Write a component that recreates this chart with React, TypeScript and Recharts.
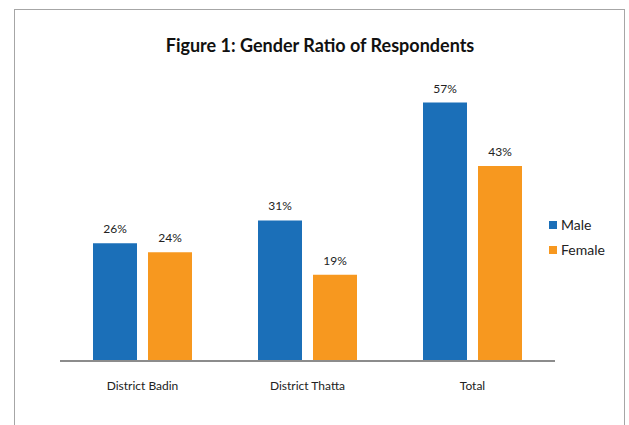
import React from 'react'
import { BarChart, Bar, XAxis, YAxis, Legend, LabelList } from 'recharts'

const categories = ['District Badin', 'District Thatta', 'Total']
const male = [26, 31, 57]
const female = [24, 19, 43]

const MALE_COLOR = '#1b6fb8'
const FEMALE_COLOR = '#f7981f'
const FONT = 'Lato, "Open Sans", sans-serif'

const data = categories.map((name, i) => ({ name, male: male[i], female: female[i] }))

const LegendBox = () => (
  <div style={{ fontFamily: FONT, fontSize: 14, color: '#222' }}>
    {[
      { label: 'Male', color: MALE_COLOR },
      { label: 'Female', color: FEMALE_COLOR },
    ].map(item => (
      <div key={item.label} style={{ display: 'flex', alignItems: 'center', height: 25 }}>
        <span style={{ width: 8, height: 8, background: item.color, marginRight: 4 }} />
        <span>{item.label}</span>
      </div>
    ))}
  </div>
)

export default function App() {
  return (
    <div style={{ position: 'absolute', left: 0, top: 0, width: 629, height: 425, background: '#fff', overflow: 'hidden' }}>
      <div style={{
        position: 'absolute', left: 14, top: 9, width: 609, height: 430,
        border: '1px solid #a6a6a6', borderBottom: 'none',
      }} />
      <div style={{
        position: 'absolute', left: 0, width: 640, top: 34, textAlign: 'center',
        fontFamily: FONT, fontWeight: 700, fontSize: 18, color: '#111',
      }}>
        Figure 1: Gender Ratio of Respondents
      </div>
      <div style={{ position: 'absolute', left: 0, top: 0 }}>
        <BarChart
          width={629}
          height={425}
          data={data}
          margin={{ top: 89, right: 4, bottom: 34, left: 60 }}
          barCategoryGap="20%"
          barGap={11}
        >
          <XAxis
            dataKey="name"
            height={30}
            axisLine={{ stroke: '#8c8c8c', strokeWidth: 2 }}
            tickLine={false}
            tick={{ fontSize: 12, fill: '#222', fontFamily: FONT }}
            tickMargin={14}
          />
          <YAxis hide domain={[0, 60]} />
          <Legend
            layout="vertical"
            align="right"
            verticalAlign="middle"
            content={<LegendBox />}
            wrapperStyle={{ width: 70, left: 549, top: 212 }}
          />
          <Bar dataKey="male" name="Male" fill={MALE_COLOR} isAnimationActive={false}>
            <LabelList dataKey="male" position="top" offset={10} formatter={(v: any) => `${v}%`}
              style={{ fontSize: 12, fill: '#222', fontFamily: FONT }} />
          </Bar>
          <Bar dataKey="female" name="Female" fill={FEMALE_COLOR} isAnimationActive={false}>
            <LabelList dataKey="female" position="top" offset={10} formatter={(v: any) => `${v}%`}
              style={{ fontSize: 12, fill: '#222', fontFamily: FONT }} />
          </Bar>
        </BarChart>
      </div>
    </div>
  )
}
